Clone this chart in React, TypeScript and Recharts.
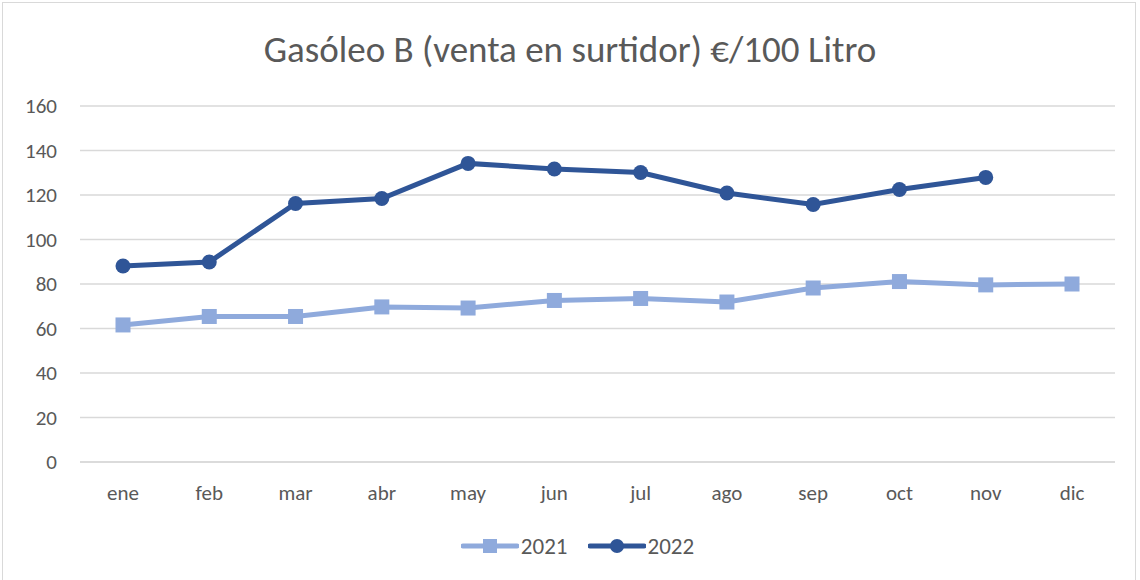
import { LineChart, Line, XAxis, YAxis, CartesianGrid, Legend } from 'recharts';

const months = ['ene', 'feb', 'mar', 'abr', 'may', 'jun', 'jul', 'ago', 'sep', 'oct', 'nov', 'dic'];
const values2021 = [61.6, 65.4, 65.4, 69.7, 69.2, 72.6, 73.5, 71.9, 78.2, 81.1, 79.6, 80.0];
const values2022: (number | null)[] = [88.1, 89.9, 116.2, 118.4, 134.2, 131.7, 130.1, 120.9, 115.7, 122.5, 127.9, null];
const yTicks = [0, 20, 40, 60, 80, 100, 120, 140, 160];

const data = months.map((m, i) => ({ month: m, y2021: values2021[i], y2022: values2022[i] }));

const LIGHT = '#8FAADC';
const DARK = '#2F5597';
const TEXT = '#595959';
const FONT = 'Carlito, Calibri, Lato, sans-serif';

function SquareDot(props: any) {
  const { cx, cy } = props;
  if (cx == null || cy == null) return null;
  return <rect x={cx - 7.5} y={cy - 7.5} width={15} height={15} fill={LIGHT} />;
}

function LegendContent() {
  const items = [
    { label: '2021', color: LIGHT, square: true },
    { label: '2022', color: DARK, square: false },
  ];
  return (
    <div
      style={{
        display: 'flex',
        justifyContent: 'center',
        gap: 20,
        paddingLeft: 40,
        fontFamily: FONT,
        fontSize: 23,
        color: TEXT,
        height: 22,
      }}
    >
      {items.map((it) => (
        <div key={it.label} style={{ display: 'flex', alignItems: 'center', gap: 2 }}>
          <svg width={58} height={16}>
            <line x1={2} y1={8} x2={56} y2={8} stroke={it.color} strokeWidth={5} strokeLinecap="round" />
            {it.square ? (
              <rect x={22} y={1} width={14} height={14} fill={it.color} />
            ) : (
              <circle cx={29} cy={8} r={7} fill={it.color} />
            )}
          </svg>
          <span>{it.label}</span>
        </div>
      ))}
    </div>
  );
}

export default function App() {
  return (
    <div style={{ position: 'absolute', left: 0, top: 0, width: 1140, height: 580, background: '#fff' }}>
      <div
        style={{
          position: 'absolute',
          left: 2,
          top: 2,
          width: 1134,
          height: 580,
          border: '1px solid #d9d9d9',
          boxSizing: 'border-box',
        }}
      />
      <div
        style={{
          position: 'absolute',
          left: 0,
          top: 27,
          width: 1140,
          textAlign: 'center',
          fontFamily: FONT,
          fontSize: 37,
          fontWeight: 300,
          color: TEXT,
        }}
      >
        Gasóleo B (venta en surtidor) €/100 Litro
      </div>
      <div style={{ position: 'absolute', left: 0, top: 0 }}>
        <LineChart width={1140} height={580} data={data} margin={{ top: 106, right: 25, left: 0, bottom: 36 }}>
          <CartesianGrid vertical={false} stroke="#d9d9d9" strokeWidth={1.5} />
          <XAxis
            dataKey="month"
            tickLine={false}
            axisLine={{ stroke: '#d9d9d9', strokeWidth: 1.5 }}
            tick={{ fill: TEXT, fontSize: 21, fontFamily: FONT }}
            tickMargin={17}
            height={60}
            padding={{ left: 43, right: 43 }}
          />
          <YAxis
            domain={[0, 160]}
            ticks={yTicks}
            width={80}
            tickLine={false}
            axisLine={false}
            tick={{ fill: TEXT, fontSize: 21, fontFamily: FONT }}
            tickMargin={17}
          />
          <Legend content={<LegendContent />} verticalAlign="bottom" wrapperStyle={{ bottom: 23 }} />
          <Line
            dataKey="y2021"
            name="2021"
            stroke={LIGHT}
            strokeWidth={5}
            dot={<SquareDot />}
            activeDot={false}
            isAnimationActive={false}
          />
          <Line
            dataKey="y2022"
            name="2022"
            stroke={DARK}
            strokeWidth={5}
            dot={{ r: 7.5, fill: DARK, stroke: DARK, strokeWidth: 0 }}
            activeDot={false}
            isAnimationActive={false}
          />
        </LineChart>
      </div>
    </div>
  );
}
